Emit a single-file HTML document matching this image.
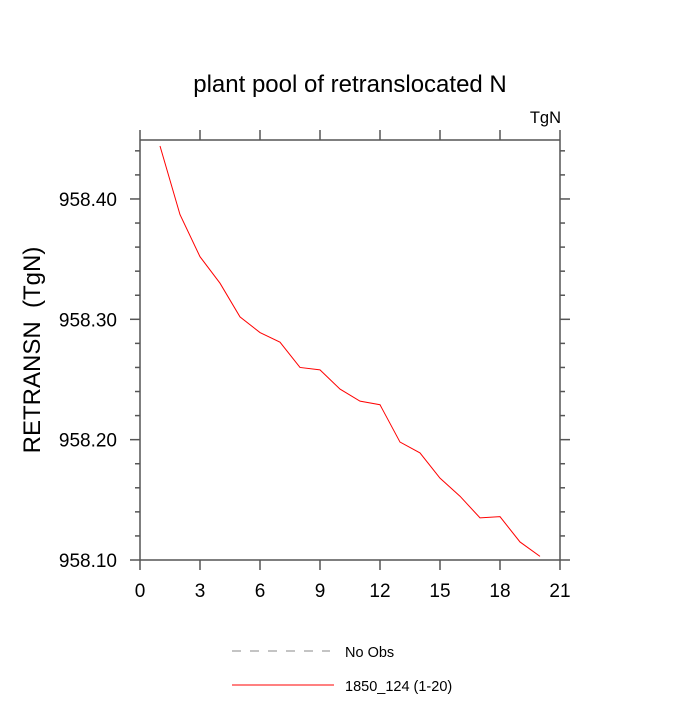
<!DOCTYPE html>
<html><head><meta charset="utf-8"><style>body{margin:0;background:#fff}svg{font-family:"Liberation Sans",sans-serif}</style></head>
<body>
<svg id="chart" width="700" height="700" viewBox="0 0 700 700" xmlns="http://www.w3.org/2000/svg">
<rect width="700" height="700" fill="#fff"/>
<text x="350" y="92" text-anchor="middle" font-size="24">plant pool of retranslocated N</text>
<text x="561" y="123" text-anchor="end" font-size="16.5">TgN</text>
<text transform="translate(40,350) rotate(-90)" text-anchor="middle" font-size="24" xml:space="preserve">RETRANSN  (TgN)</text>
<g id="axes"></g>
<polyline id="series" fill="none" stroke="#ff0000" stroke-width="1"/>
<g>
<line x1="232" y1="651" x2="330" y2="651" stroke="#888" stroke-dasharray="9,9"/>
<text x="345" y="657" font-size="14.5">No Obs</text>
<line x1="232" y1="685" x2="334" y2="685" stroke="#ff0000"/>
<text x="345" y="691" font-size="14.5">1850_124 (1-20)</text>
</g>
</svg>
<script>
const xs=[1,2,3,4,5,6,7,8,9,10,11,12,13,14,15,16,17,18,19,20];
const ys=[958.444,958.387,958.352,958.330,958.302,958.289,958.281,958.260,958.258,958.242,958.232,958.229,958.198,958.189,958.168,958.153,958.135,958.136,958.115,958.103];
const xTicks=[0,3,6,9,12,15,18,21];
const yTicks=[958.10,958.20,958.30,958.40];
const yTickLabels=["958.10","958.20","958.30","958.40"];
const L=140,R=560,T=140,B=560,xMin=0,xMax=21,yMin=958.10,yMax=958.449;
function sx(v){return L+(v-xMin)/(xMax-xMin)*(R-L);}
function sy(v){return B-(v-yMin)/(yMax-yMin)*(B-T);}
const NS="http://www.w3.org/2000/svg",g=document.getElementById('axes');
function ln(x1,y1,x2,y2,name){const l=document.createElementNS(NS,'line');l.setAttribute('x1',x1);l.setAttribute('y1',y1);l.setAttribute('x2',x2);l.setAttribute('y2',y2);l.setAttribute('stroke','#555');l.setAttribute('stroke-width','1.5');


g.appendChild(l);}
function tx(x,y,s,anchor,name){const t=document.createElementNS(NS,'text');t.setAttribute('x',x);t.setAttribute('y',y);t.setAttribute('text-anchor',anchor);t.setAttribute('font-size','19');t.textContent=s;


g.appendChild(t);}
ln(L,T,R,T,'plot-frame-top');ln(L,B,R,B,'plot-frame-bottom');ln(L,T,L,B,'plot-frame-left');ln(R,T,R,B,'plot-frame-right');
xTicks.forEach(v=>{const x=sx(v);ln(x,B,x,B+10,'x-tick');ln(x,T,x,T-10,'x-tick-top');tx(x,B+37,String(v),'middle','x-tick-label');});
for(let v=yMin;v<=yMax+1e-9;v+=0.02){const y=sy(v);const major=Math.abs(Math.round(v*10)/10-v)<1e-6;const len=major?10:5;ln(L-len,y,L,y,'y-tick');ln(R,y,R+len,y,'y-tick-right');}
yTicks.forEach((v,i)=>{tx(L-23,sy(v)+7,yTickLabels[i],'end','y-tick-label');});
document.getElementById('series').setAttribute('points',xs.map((x,i)=>sx(x)+','+sy(ys[i])).join(' '));
</script>
</body></html>
